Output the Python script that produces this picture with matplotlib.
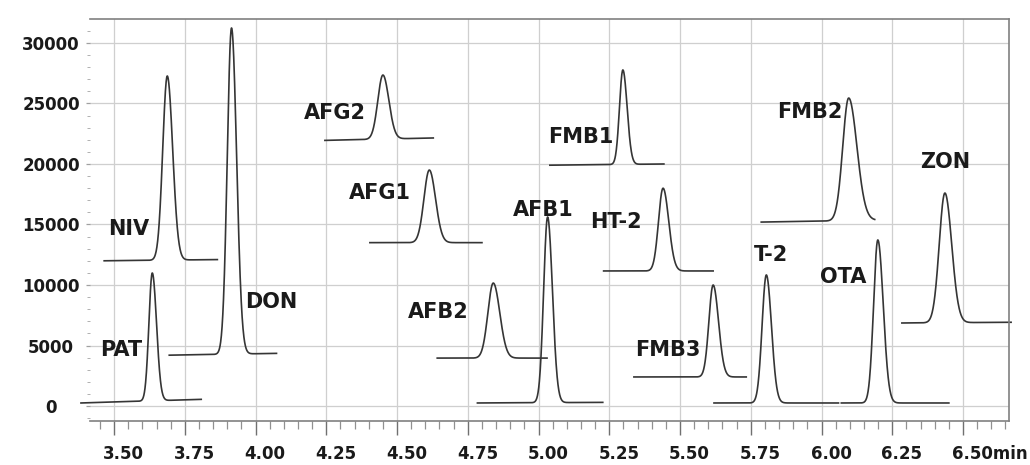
import numpy as np
import matplotlib.pyplot as plt
from matplotlib.ticker import MultipleLocator
import matplotlib.transforms as mtransforms

# Peak data (time in min, signal in counts)
names = ["PAT", "NIV", "DON", "AFG2", "AFG1", "AFB2", "AFB1",
         "FMB1", "HT-2", "FMB3", "T-2", "OTA", "FMB2", "ZON"]
seg_start = [3.383, 3.465, 3.695, 4.245, 4.404, 4.642, 4.784,
             5.040, 5.230, 5.337, 5.620, 6.070, 5.787, 6.284]
seg_end = [3.808, 3.865, 4.074, 4.628, 4.800, 5.030, 5.227,
           5.443, 5.617, 5.734, 6.060, 6.450, 6.188, 6.670]
apex_time = [3.635, 3.688, 3.915, 4.450, 4.614, 4.840, 5.032,
             5.298, 5.440, 5.617, 5.805, 6.199, 6.096, 6.436]
apex_value = [10990, 27270, 31240, 27350, 19500, 10160, 15620,
              27770, 18000, 10000, 10830, 13720, 25450, 17600]
base_left = [250, 12000, 4200, 21950, 13500, 3960, 250,
             19900, 11160, 2400, 250, 250, 15200, 6860]
base_right = [550, 12100, 4350, 22150, 13500, 3960, 300,
              20000, 11160, 2400, 250, 250, 15350, 6920]
sigma_left = [0.012, 0.016, 0.015, 0.018, 0.019, 0.019, 0.014,
              0.012, 0.016, 0.015, 0.015, 0.015, 0.021, 0.020]
sigma_right = [0.015, 0.019, 0.018, 0.021, 0.022, 0.023, 0.017,
               0.015, 0.020, 0.019, 0.018, 0.019, 0.029, 0.024]
label_x = [3.525, 3.553, 4.057, 4.280, 4.440, 4.645, 5.018,
           5.149, 5.273, 5.457, 5.823, 6.078, 5.957, 6.436]
label_y = [4630, 14630, 8600, 24200, 17600, 7770, 16200,
           22230, 15200, 4630, 12480, 10660, 24300, 20170]

x_major = [3.50, 3.75, 4.00, 4.25, 4.50, 4.75, 5.00, 5.25,
           5.50, 5.75, 6.00, 6.25, 6.50]
x_labels = ["3.50", "3.75", "4.00", "4.25", "4.50", "4.75", "5.00",
            "5.25", "5.50", "5.75", "6.00", "6.25", "6.50min"]
y_major = [0, 5000, 10000, 15000, 20000, 25000, 30000]

fig = plt.figure(figsize=(10.3, 4.65), dpi=100)
ax = fig.add_axes([0.0874, 0.0946, 0.8922, 0.8645])

line_col = "#353535"
for i in range(len(names)):
    t = np.linspace(seg_start[i], seg_end[i], 600)
    frac = (t - seg_start[i]) / (seg_end[i] - seg_start[i])
    base = base_left[i] + (base_right[i] - base_left[i]) * frac
    base_apex = base_left[i] + (base_right[i] - base_left[i]) * \
        (apex_time[i] - seg_start[i]) / (seg_end[i] - seg_start[i])
    h = apex_value[i] - base_apex
    sig = np.where(t < apex_time[i], sigma_left[i], sigma_right[i])
    y = base + h * np.exp(-0.5 * ((t - apex_time[i]) / sig) ** 2)
    ax.plot(t, y, color=line_col, lw=1.2, clip_on=False)
    ax.text(label_x[i], label_y[i], names[i], ha="center", va="center",
            fontsize=15, fontweight="bold", color="#1a1a1a")

ax.set_xlim(3.415, 6.6625)
ax.set_ylim(-1240, 31980)

ax.set_xticks(x_major)
ax.set_xticklabels(x_labels)
ax.xaxis.set_minor_locator(MultipleLocator(0.05))
ax.set_yticks(y_major)
ax.yaxis.set_minor_locator(MultipleLocator(1000))

ax.grid(True, which="major", color="#cfcfcf", lw=0.9)
ax.set_axisbelow(True)

for s in ["top", "right", "bottom"]:
    ax.spines[s].set_color("#808080")
    ax.spines[s].set_linewidth(1.2)
ax.spines["left"].set_visible(False)

ax.tick_params(axis="x", which="major", direction="out", length=10,
               width=1.0, color="#707070", pad=7, labelsize=12)
ax.tick_params(axis="x", which="minor", direction="out", length=6,
               width=0.9, color="#909090")
ax.tick_params(axis="y", which="major", direction="out", length=3,
               width=0.9, color="#a0a0a0", pad=25, labelsize=12)
ax.tick_params(axis="y", which="minor", direction="out", length=2,
               width=0.7, color="#b0b0b0")

shift = mtransforms.ScaledTranslation(-0.11, 0, fig.dpi_scale_trans)
for lab in ax.get_xticklabels():
    lab.set_ha("left")
    lab.set_fontweight("bold")
    lab.set_color("#1a1a1a")
    lab.set_transform(lab.get_transform() + shift)
for lab in ax.get_yticklabels():
    lab.set_ha("center")
    lab.set_fontweight("bold")
    lab.set_color("#1a1a1a")

plt.savefig("out.png", dpi=100)
